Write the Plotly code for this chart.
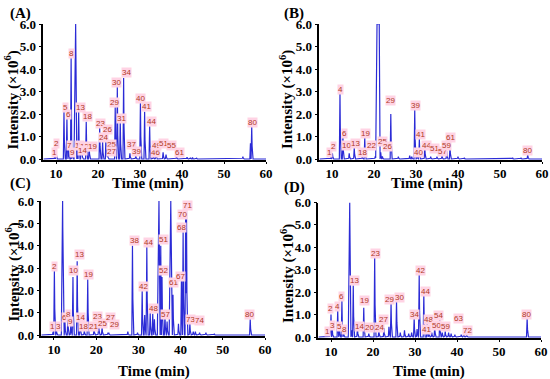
import numpy as np
import plotly.graph_objects as go

# ---------------- data (peak label, retention time in min, intensity x10^6) ----------------
A_LABELS = ["1", "2", "5", "6", "7", "8", "9", "10", "11", "13", "12", "14", "18", "19", "23", "24", "26",
            "25", "27", "29", "30", "31", "34", "37", "39", "40", "41", "44", "46", "49", "51", "55", "61", "80"]
A_TIMES = [9.7, 10.0, 11.9, 12.6, 13.0, 13.6, 13.9, 14.6, 15.1, 15.4, 16.0, 16.2, 17.2, 17.9, 20.4, 21.1, 21.9,
           22.1, 22.3, 24.1, 24.6, 25.3, 26.1, 27.6, 29.0, 30.1, 31.1, 32.3, 33.2, 33.8, 35.5, 36.2, 38.7, 56.6]
A_HEIGHTS = [0.15, 0.45, 2.1, 1.8, 0.45, 4.5, 0.25, 6.0, 0.4, 2.1, 0.6, 0.3, 1.65, 0.55, 1.4, 0.75, 1.1,
             0.4, 0.2, 2.3, 3.2, 1.7, 3.6, 0.25, 0.15, 2.5, 2.1, 1.45, 0.15, 0.3, 0.3, 0.2, 0.12, 1.45]
A_MINOR_TIMES = [41.2, 42.0, 42.5, 43.5, 54.5, 56.3]
A_MINOR_HEIGHTS = [0.08, 0.06, 0.07, 0.04, 0.1, 0.7]

B_LABELS = ["1", "2", "4", "6", "10", "13", "18", "19", "22", "23", "25", "26", "29", "39", "40", "41",
            "44", "51", "57", "59", "61", "80"]
B_TIMES = [9.8, 10.1, 11.9, 12.6, 14.1, 15.3, 17.2, 17.8, 20.3, 20.9, 21.6, 22.0, 24.0, 29.7, 30.3, 30.8,
           32.1, 35.0, 36.2, 37.3, 38.1, 56.6]
B_HEIGHTS = [0.1, 0.25, 2.95, 1.0, 0.25, 0.5, 0.1, 0.95, 0.12, 6.0, 0.3, 0.12, 2.0, 2.2, 0.15, 0.9,
             0.5, 0.1, 0.15, 0.35, 0.6, 0.2]
B_MINOR_TIMES = [25.8, 28.5, 29.0, 33.5, 40.0, 41.5, 53.0, 55.0]
B_MINOR_HEIGHTS = [0.1, 0.15, 0.1, 0.1, 0.1, 0.05, 0.05, 0.05]

C_LABELS = ["1", "3", "2", "5", "6", "8", "9", "10", "13", "14", "18", "19", "21", "23", "25", "27", "29",
            "38", "42", "44", "48", "50", "51", "52", "57", "59", "61", "67", "68", "70", "71", "73", "74", "80"]
C_TIMES = [9.8, 10.6, 10.1, 12.0, 12.6, 13.3, 14.0, 14.5, 15.5, 16.2, 17.2, 18.0, 19.5, 20.6, 21.4, 22.8, 23.0,
           28.6, 30.9, 32.0, 33.4, 34.8, 35.3, 35.6, 36.3, 37.6, 38.2, 40.2, 40.6, 41.2, 41.4, 42.2, 43.0, 56.5]
C_HEIGHTS = [0.15, 0.2, 2.9, 6.0, 0.6, 0.8, 0.45, 2.6, 3.3, 0.6, 0.2, 2.5, 0.3, 0.5, 0.35, 0.1, 0.1,
             4.0, 2.0, 4.0, 0.95, 6.0, 4.0, 2.6, 0.9, 6.0, 1.8, 2.5, 4.6, 5.3, 5.6, 0.5, 0.15, 0.7]
C_MINOR_TIMES = [27.5, 29.8, 31.5, 32.8, 33.8, 36.8, 39.5, 43.5, 44.5, 46.0, 48.0]
C_MINOR_HEIGHTS = [0.15, 0.1, 0.9, 1.0, 0.7, 0.6, 0.5, 0.15, 0.1, 0.1, 0.05]

D_LABELS = ["1", "3", "2", "4", "5", "8", "6", "10", "13", "14", "19", "20", "23", "24", "27", "29", "30",
            "34", "42", "44", "48", "41", "50", "54", "59", "63", "72", "80"]
D_TIMES = [9.8, 10.3, 10.0, 11.6, 12.0, 13.0, 12.6, 14.4, 15.3, 16.3, 17.8, 19.0, 20.4, 21.4, 22.6, 24.3, 25.6,
           29.8, 31.0, 32.1, 32.9, 33.3, 34.7, 35.9, 37.2, 38.6, 42.3, 56.7]
D_HEIGHTS = [0.15, 0.35, 1.0, 1.2, 0.35, 0.2, 1.6, 6.0, 2.3, 0.4, 1.3, 0.15, 3.6, 0.3, 0.4, 1.5, 1.6,
             0.85, 2.8, 1.9, 0.6, 0.2, 0.45, 0.8, 0.25, 0.15, 0.1, 0.85]
D_MINOR_TIMES = [14.9, 23.8, 26.5, 27.5, 28.5, 29.2, 30.5, 34.0, 36.5, 38.0, 39.5, 41.0, 41.6]
D_MINOR_HEIGHTS = [0.3, 0.45, 0.2, 0.3, 0.15, 0.2, 0.35, 0.2, 0.2, 0.2, 0.1, 0.1, 0.15]

X_TICKS = [10, 20, 30, 40, 50, 60]
Y_TICKS = [0, 1, 2, 3, 4, 5, 6]

# ---------------- layout helpers (label placement in data units, peak shapes) ----------------
LABEL_POS = {
    "A": {"1": (9.6, 0.27), "2": (10.2, 0.67), "5": (12.2, 2.3), "6": (12.9, 2.0), "7": (13.1, 0.58),
          "8": (13.6, 4.7), "9": (13.9, 0.31), "10": (14.7, 6.09), "11": (15.5, 0.58), "13": (15.9, 2.3),
          "12": (16.7, 0.55), "14": (16.4, 0.4), "18": (17.5, 1.88), "19": (18.6, 0.55), "23": (20.5, 1.59),
          "24": (21.3, 0.95), "26": (22.3, 1.32), "25": (23.1, 0.65), "27": (23.3, 0.33), "29": (23.9, 2.5),
          "30": (24.5, 3.4), "31": (25.6, 1.78), "34": (26.7, 3.84), "37": (27.9, 0.65), "39": (29.2, 0.33),
          "40": (30.2, 2.7), "41": (31.6, 2.33), "44": (32.8, 1.66), "46": (33.6, 0.28), "49": (34.0, 0.6),
          "51": (35.7, 0.7), "55": (37.5, 0.62), "61": (39.3, 0.28), "80": (56.7, 1.63)},
    "B": {"1": (9.4, 0.28), "2": (10.3, 0.55), "4": (12.1, 3.1), "6": (12.9, 1.14), "10": (13.5, 0.62),
          "13": (15.5, 0.7), "18": (17.2, 0.28), "19": (17.9, 1.14), "22": (19.5, 0.62), "23": (21.0, 6.18),
          "25": (22.0, 0.77), "26": (23.2, 0.55), "29": (24.0, 2.59), "39": (29.8, 2.36), "40": (30.5, 0.28),
          "41": (31.0, 1.1), "44": (32.5, 0.62), "51": (34.5, 0.47), "57": (36.3, 0.33), "59": (37.3, 0.58),
          "61": (38.3, 0.95), "80": (56.5, 0.4)},
    "C": {"1": (9.6, 0.37), "3": (11.0, 0.37), "2": (10.2, 3.06), "5": (12.2, 6.05), "6": (12.6, 0.78),
          "8": (13.55, 0.94), "9": (14.0, 0.6), "10": (14.7, 2.87), "13": (16.0, 3.61), "14": (16.4, 0.78),
          "18": (16.9, 0.4), "19": (18.1, 2.73), "21": (19.3, 0.4), "23": (20.4, 0.82), "25": (21.4, 0.52),
          "27": (23.3, 0.78), "29": (24.45, 0.49), "38": (29.0, 4.25), "42": (31.2, 2.19), "44": (32.5, 4.13),
          "48": (33.5, 1.19), "50": (35.1, 6.12), "51": (35.9, 4.29), "52": (35.9, 2.88), "57": (36.5, 0.9),
          "59": (37.9, 6.12), "61": (38.4, 2.34), "67": (40.0, 2.64), "68": (40.3, 4.8), "70": (40.5, 5.4),
          "71": (41.7, 5.79), "73": (42.4, 0.7), "74": (44.4, 0.63), "80": (56.3, 0.9)},
    "D": {"1": (9.1, 0.24), "3": (10.4, 0.5), "2": (9.9, 1.27), "4": (11.6, 1.35), "5": (12.1, 0.49),
          "8": (13.2, 0.34), "6": (12.5, 1.82), "10": (14.5, 6.09), "13": (15.7, 2.53), "14": (16.7, 0.46),
          "19": (17.9, 1.61), "20": (19.05, 0.41), "23": (20.7, 3.72), "24": (21.5, 0.41), "27": (22.5, 0.76),
          "29": (23.9, 1.67), "30": (26.3, 1.76), "34": (29.8, 1.02), "42": (31.2, 2.98), "44": (32.4, 2.01),
          "48": (33.2, 0.76), "41": (32.8, 0.34), "50": (35.2, 0.53), "54": (35.6, 0.98), "59": (37.3, 0.49),
          "63": (40.3, 0.83), "72": (42.5, 0.27), "80": (56.6, 1.02)},
}
WIDE = {("A", "10"): (0.08, 0.3), ("B", "23"): (0.35, 0.5), ("C", "5"): (0.05, 0.25),
        ("C", "50"): (0.08, 0.3), ("C", "59"): (0.08, 0.3), ("D", "10"): (0.06, 0.28)}
BASE_HALF = 0.15

PANELS = {
    "A": (A_LABELS, A_TIMES, A_HEIGHTS, A_MINOR_TIMES, A_MINOR_HEIGHTS),
    "B": (B_LABELS, B_TIMES, B_HEIGHTS, B_MINOR_TIMES, B_MINOR_HEIGHTS),
    "C": (C_LABELS, C_TIMES, C_HEIGHTS, C_MINOR_TIMES, C_MINOR_HEIGHTS),
    "D": (D_LABELS, D_TIMES, D_HEIGHTS, D_MINOR_TIMES, D_MINOR_HEIGHTS),
}

W, H = 550, 379
# pixel geometry: (x-left px at t=7, x-right px at t=60, y px at 0 intensity, y px at 6.0)
GEOM = {"A": (43.4, 266, 159, 24), "B": (319.4, 542, 159, 24),
        "C": (41.3, 265, 335, 201), "D": (318.4, 541, 337, 202.5)}
YMIN, YMAX = -0.06, 6.0
AXES = {"A": ("x", "y"), "B": ("x2", "y2"), "C": ("x3", "y3"), "D": ("x4", "y4")}

BLUE = "#2b2bd6"
LABEL_COLOR = "#b03a24"
LABEL_BG = "#ffd3e4"
SERIF = "Liberation Serif, Times New Roman, serif"


def chromatogram(times, heights, key_panel, labels):
    grid = np.arange(7.0, 60.0001, 0.01)
    sig = np.zeros_like(grid)
    for i, (t, h) in enumerate(zip(times, heights)):
        lab = labels[i] if labels is not None else None
        top, base = WIDE.get((key_panel, lab), (0.0, BASE_HALF))
        d = np.abs(grid - t)
        shape = np.clip((base - d) / (base - top), 0, 1)
        sig = np.maximum(sig, h * shape)
    return grid, sig


fig = go.Figure()
annotations = []
layout_axes = {}

for key, (labels, times, heights, mt, mh) in PANELS.items():
    xa, ya = AXES[key]
    g1, s1 = chromatogram(times, heights, key, labels)
    g2, s2 = chromatogram(mt, mh, key, None)
    sig = np.maximum(s1, s2)
    fig.add_trace(go.Scatter(x=g1, y=sig, mode="lines", line=dict(color=BLUE, width=1.2),
                             xaxis=xa, yaxis=ya, showlegend=False, hoverinfo="skip"))

    xl, xr, y0, y6 = GEOM[key]
    ppu = (y0 - y6) / 6.0
    ybot = y0 - YMIN * ppu
    xdom = [xl / W, xr / W]
    ydom = [(H - ybot) / H, (H - y6) / H]
    xname = "xaxis" if xa == "x" else "xaxis" + xa[1:]
    yname = "yaxis" if ya == "y" else "yaxis" + ya[1:]
    layout_axes[xname] = dict(domain=xdom, range=[7, 60], anchor=ya, tickvals=X_TICKS, automargin=False,
                              showline=True, linecolor="black", linewidth=1.6, ticks="outside",
                              ticklen=2, tickwidth=1.3, tickcolor="black", showgrid=False, zeroline=False,
                              ticklabelstandoff=-2,
                              tickfont=dict(family=SERIF, size=13, color="black", weight="bold"))
    layout_axes[yname] = dict(domain=ydom, range=[YMIN, YMAX], anchor=xa, tickvals=Y_TICKS, automargin=False,
                              tickformat=".1f", showline=True, linecolor="black", linewidth=1.6,
                              ticks="outside", ticklen=3, tickwidth=1.3, tickcolor="black",
                              showgrid=False, zeroline=False,
                              tickfont=dict(family=SERIF, size=13, color="black", weight="bold"))

    for lab in labels:
        lx, ly = LABEL_POS[key][lab]
        annotations.append(dict(x=lx, y=ly, xref=xa, yref=ya, text=lab, showarrow=False,
                                font=dict(family="Liberation Sans, Arial, sans-serif", size=8,
                                          color=LABEL_COLOR),
                                bgcolor=LABEL_BG, borderpad=0, xanchor="center", yanchor="middle"))

# axis titles and panel letters (pixel positions converted to paper coords)
TITLES = {"A": (148, 184, 12.5, 100, 20, 13), "B": (427, 184, 287, 100, 294, 13),
          "C": (154, 371, 12.5, 272, 20, 184), "D": (429, 371, 287, 274, 294, 187)}
for key, (tx, ty, ix, iy, px, py) in TITLES.items():
    annotations.append(dict(x=tx / W, y=1 - ty / H, xref="paper", yref="paper", text="Time (min)",
                            showarrow=False, xanchor="center", yanchor="middle",
                            font=dict(family=SERIF, size=15, color="black", weight="bold")))
    annotations.append(dict(x=ix / W, y=1 - iy / H, xref="paper", yref="paper",
                            text="Intensity (×10<sup>6</sup>)", textangle=-90,
                            showarrow=False, xanchor="center", yanchor="middle",
                            font=dict(family=SERIF, size=15, color="black", weight="bold")))
    annotations.append(dict(x=px / W, y=1 - py / H, xref="paper", yref="paper", text=f"({key})",
                            showarrow=False, xanchor="center", yanchor="middle",
                            font=dict(family=SERIF, size=15, color="black", weight="bold")))

fig.update_layout(width=W, height=H, margin=dict(l=0, r=0, t=0, b=0, autoexpand=False),
                  paper_bgcolor="white", plot_bgcolor="white",
                  annotations=annotations, **layout_axes)

fig.write_html("out.html", config={"displayModeBar": False},
               post_script="document.body.style.margin='0px';document.body.style.overflow='hidden';")
